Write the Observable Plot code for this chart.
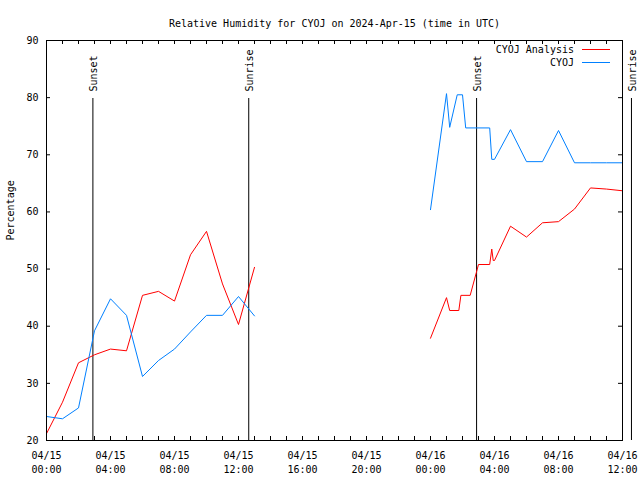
<!DOCTYPE html>
<html>
<head>
<meta charset="utf-8">
<script src="https://cdn.jsdelivr.net/npm/d3@7"></script>
<script src="https://cdn.jsdelivr.net/npm/@observablehq/plot@0.6"></script>
<style>
  body { margin: 0; background: #fff; }
  svg { font-family: "DejaVu Sans Mono", monospace; }
</style>
</head>
<body>
<div id="chart"></div>
<script>
const title = "Relative Humidity for CYOJ on 2024-Apr-15 (time in UTC)";
const yLabel = "Percentage";

// x in hours since 2024-04-15 00:00 UTC
const tickHours = [0, 4, 8, 12, 16, 20, 24, 28, 32, 36];
const tickLabels = ["04/15\n00:00", "04/15\n04:00", "04/15\n08:00", "04/15\n12:00", "04/15\n16:00",
                    "04/15\n20:00", "04/16\n00:00", "04/16\n04:00", "04/16\n08:00", "04/16\n12:00"];
const minorTickHours = [0,1,2,3,4,5,6,7,8,9,10,11,12,13,14,15,16,17,18,19,20,21,22,23,24,25,26,27,28,29,30,31,32,33,34,35,36];
const yTicks = [20, 30, 40, 50, 60, 70, 80, 90];

const seriesNames = ["CYOJ Analysis", "CYOJ"];
const seriesColors = ["#ff0000", "#0080ff"];

// CYOJ Analysis (null = data gap)
const analysisHours  = [0, 1, 2, 3, 4, 5, 6, 7, 8, 9, 10, 11, 12, 13, null,
                        24, 25, 25.2, 25.77, 25.9, 26.48, 27, 27.7, 27.83, 27.92, 28, 29, 30, 31, 32, 33, 34, 35, 36];
const analysisValues = [21.2, 26.7, 33.6, 35.0, 36.0, 35.7, 45.4, 46.1, 44.4, 52.5, 56.6, 47.4, 40.3, 50.3, null,
                        37.9, 45.0, 42.75, 42.75, 45.4, 45.4, 50.8, 50.8, 53.5, 51.5, 51.5, 57.5, 55.6, 58.1, 58.3, 60.5, 64.2, 64.0, 63.7];

// CYOJ observations
const obsHours  = [0, 1, 2, 3, 4, 5, 6, 7, 8, 9, 10, 11, 12, 13, null,
                   24, 25, 25.2, 25.67, 26, 26.2, 27.7, 27.83, 28, 29, 30, 31, 32, 33, 34, 35, 36];
const obsValues = [24.2, 23.8, 25.7, 39.2, 44.8, 41.9, 31.2, 34.0, 36.0, 39.0, 41.9, 41.9, 45.2, 41.8, null,
                   60.4, 80.7, 74.8, 80.5, 80.5, 74.7, 74.7, 69.2, 69.2, 74.4, 68.8, 68.8, 74.25, 68.6, 68.6, 68.6, 68.6];

const sunHours  = [2.9, 12.64, 26.88, 36.56];
const sunLabels = ["Sunset", "Sunrise", "Sunset", "Sunrise"];

const analysis = analysisHours.map((h, i) => ({hour: h, value: analysisValues[i]}));
const obs = obsHours.map((h, i) => ({hour: h, value: obsValues[i]}));
const suns = sunHours.map((h, i) => ({hour: h, label: sunLabels[i]}));

const plot = Plot.plot({
  width: 640,
  height: 480,
  marginLeft: 46,
  marginRight: 18,
  marginTop: 40,
  marginBottom: 40,
  style: {fontFamily: "DejaVu Sans Mono, monospace", fontSize: "10px", background: "white", color: "black"},
  x: {domain: [0, 36]},
  y: {domain: [20, 90]},
  marks: [
    // inward ticks
    Plot.ruleX(minorTickHours, {insetTop: 396, stroke: "black"}),
    Plot.ruleX(minorTickHours, {insetBottom: 396, stroke: "black"}),
    Plot.ruleY(yTicks, {insetRight: 572, stroke: "black"}),
    Plot.ruleY(yTicks, {insetLeft: 572, stroke: "black"}),
    Plot.axisX({ticks: tickHours, tickFormat: d => tickLabels[tickHours.indexOf(d)], tickSize: 0, tickPadding: 9, lineHeight: 1.4, label: null}),
    Plot.axisY({ticks: yTicks, tickSize: 0, tickPadding: 8, label: null}),
    Plot.text([yLabel], {frameAnchor: "left", dx: -36, rotate: -90}),
    Plot.text([title], {frameAnchor: "top", dy: -21}),
    // sunrise / sunset markers
    Plot.ruleX(suns, {x: "hour", insetTop: 58, stroke: "black"}),
    Plot.text(suns, {x: "hour", text: "label", frameAnchor: "top", dy: 51, dx: -3, rotate: -90, textAnchor: "start"}),
    Plot.line(analysis, {x: "hour", y: "value", stroke: seriesColors[0], strokeWidth: 1}),
    Plot.line(obs, {x: "hour", y: "value", stroke: seriesColors[1], strokeWidth: 1}),
    Plot.frame({stroke: "black"})
  ]
});

// legend (top-right inside plot)
const svg = d3.select(plot);
seriesNames.forEach((name, i) => {
  const y = 50 + i * 13;
  svg.append("text").attr("x", 574).attr("y", y).attr("dy", "0.32em")
     .attr("text-anchor", "end").attr("fill", "black").text(name);
  svg.append("line").attr("x1", 582).attr("x2", 610).attr("y1", y - 0.5).attr("y2", y - 0.5)
     .attr("stroke", seriesColors[i]).attr("stroke-width", 1);
});

document.getElementById("chart").appendChild(plot);
</script>
</body>
</html>
